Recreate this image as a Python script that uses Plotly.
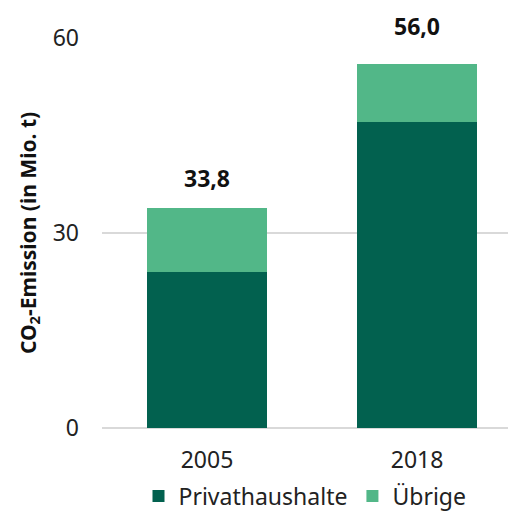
import plotly.graph_objects as go

years = ["2005", "2018"]
privathaushalte = [24.0, 47.1]
uebrige = [9.8, 8.9]
totals = [33.8, 56.0]
total_labels = ["33,8", "56,0"]

dark = "#02614F"
light = "#52B788"
font_family = "'Noto Sans', 'Open Sans', sans-serif"

fig = go.Figure()
fig.add_trace(go.Bar(x=years, y=privathaushalte, name="Privathaushalte",
                     marker=dict(color=dark, line=dict(width=0)), width=0.571))
fig.add_trace(go.Bar(x=years, y=uebrige, name="Übrige",
                     marker=dict(color=light, line=dict(width=0)), width=0.571))

# total labels above each stacked bar (x given as category index)
for i, (tot, lab, shift) in enumerate(zip(totals, total_labels, [12, 20])):
    fig.add_annotation(x=i, y=tot, xref="x", yref="y", text="<b>" + lab + "</b>",
                       showarrow=False, yanchor="bottom", yshift=shift,
                       font=dict(family=font_family, size=23, color="#111111"))

fig.update_layout(
    barmode="stack",
    width=508, height=512,
    margin=dict(l=102, r=0, t=38, b=84, autoexpand=False),
    plot_bgcolor="white", paper_bgcolor="white",
    font=dict(family=font_family, size=23, color="#222222"),
    xaxis=dict(type="category", range=[-0.5, 1.433], showgrid=False,
               showline=False, ticks="", ticklabelstandoff=16,
               tickfont=dict(size=23)),
    yaxis=dict(range=[0, 60], tickvals=[0, 30, 60], showgrid=True,
               gridcolor="#d9d9d9", gridwidth=1.5, zeroline=True,
               zerolinecolor="#d9d9d9", zerolinewidth=1.5, showline=False,
               ticks="", ticklabelstandoff=22, tickfont=dict(size=23),
               title=dict(text="<b>CO<sub>2</sub>-Emission (in Mio. t)</b>",
                          font=dict(size=21, color="#111111"), standoff=10)),
    legend=dict(orientation="h", x=0.5, xanchor="center", xref="paper",
                y=0.031, yanchor="middle", yref="container",
                font=dict(size=23, color="#222222"), traceorder="normal",
                itemwidth=30),
    showlegend=True,
)

fig.write_html("out.html")
